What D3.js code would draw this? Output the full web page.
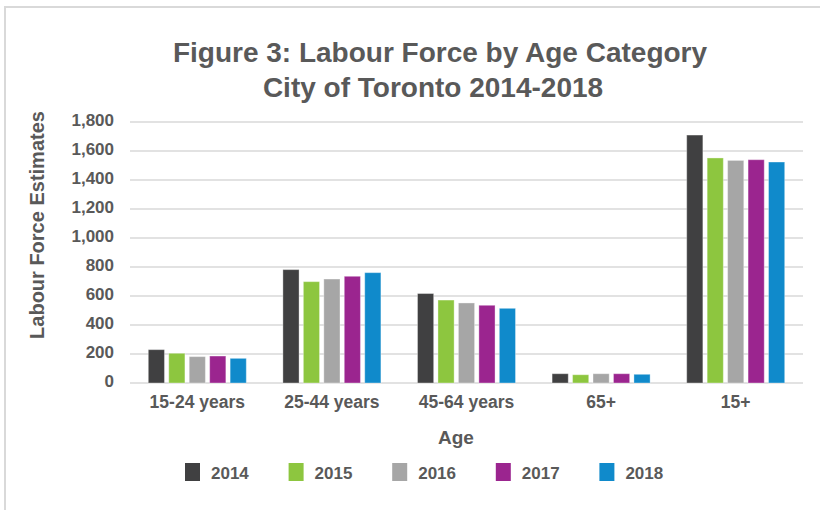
<!DOCTYPE html>
<html>
<head>
<meta charset="utf-8">
<script src="https://d3js.org/d3.v7.min.js"></script>
<style>
  body { margin: 0; background: #fff; }
  text { font-family: "Liberation Sans", Arial, Helvetica, sans-serif; font-weight: bold; fill: #595959; }
</style>
</head>
<body>
<div id="chart"></div>
<script>
// categories and series
var ages = ["15-24 years", "25-44 years", "45-64 years", "65+", "15+"];
var years = ["2014", "2015", "2016", "2017", "2018"];
var colors = ["#404041", "#8dc63f", "#a6a6a6", "#9b258f", "#108acb"];

// values per year, in age order
var v2014 = [230, 782, 617, 64, 1710];
var v2015 = [205, 699, 572, 57, 1552];
var v2016 = [182, 717, 552, 64, 1535];
var v2017 = [186, 736, 536, 64, 1540];
var v2018 = [170, 761, 515, 60, 1524];
var values = [v2014, v2015, v2016, v2017, v2018];

var yTicks = [0, 200, 400, 600, 800, 1000, 1200, 1400, 1600, 1800];

var W = 820, H = 510;
var margin = {top: 122, right: 17, bottom: 127, left: 130};
var width = W - margin.left - margin.right,
    height = H - margin.top - margin.bottom;

var svg = d3.select("#chart").append("svg")
    .attr("width", W)
    .attr("height", H);

// outer frame
svg.append("rect")
    .attr("x", 5).attr("y", 7)
    .attr("width", W + 10).attr("height", H + 10)
    .attr("fill", "none")
    .attr("stroke", "#d9d9d9")
    .attr("stroke-width", 2);

// title
var title = svg.append("text")
    .attr("text-anchor", "middle")
    .attr("font-size", 28);
title.append("tspan").attr("x", 440).attr("y", 62).text("Figure 3: Labour Force by Age Category");
title.append("tspan").attr("x", 433).attr("y", 97).text("City of Toronto 2014-2018");

var g = svg.append("g")
    .attr("transform", "translate(" + margin.left + "," + margin.top + ")");

var x = d3.scaleBand().domain(ages).range([0, width]);
var x1 = d3.scaleBand().domain(years).range([0, 98]).paddingInner(0.21);
var y = d3.scaleLinear().domain([0, 1800]).range([height, 0]);

// gridlines
g.selectAll(".grid").data(yTicks).enter().append("line")
    .attr("x1", 0).attr("x2", width)
    .attr("y1", function(d) { return y(d); })
    .attr("y2", function(d) { return y(d); })
    .attr("stroke", "#d9d9d9")
    .attr("stroke-width", 1.5);

// y axis labels
var yAxis = g.append("g")
    .call(d3.axisLeft(y).tickValues(yTicks).tickSize(0).tickPadding(16).tickFormat(d3.format(",")));
yAxis.select(".domain").remove();
yAxis.selectAll("text").attr("font-size", 17).attr("fill", "#595959").attr("font-family", null)
    .attr("dy", "0.2em");

// x axis labels
var xAxis = g.append("g")
    .attr("transform", "translate(0," + height + ")")
    .call(d3.axisBottom(x).tickSize(0).tickPadding(13));
xAxis.select(".domain").remove();
xAxis.selectAll("text").attr("font-size", 17.5).attr("fill", "#595959").attr("font-family", null);

// bars
var groups = g.selectAll(".grp").data(years).enter().append("g");
groups.each(function(yr, i) {
    d3.select(this).selectAll("rect").data(values[i]).enter().append("rect")
        .attr("x", function(d, j) { return x(ages[j]) + (x.bandwidth() - 98) / 2 + x1(yr); })
        .attr("y", function(d) { return y(d); })
        .attr("width", x1.bandwidth())
        .attr("height", function(d) { return height - y(d); })
        .attr("fill", colors[i])
        .attr("stroke", "#ffffff")
        .attr("stroke-opacity", 0.35)
        .attr("stroke-width", 1);
});

// axis titles
svg.append("text")
    .attr("text-anchor", "middle")
    .attr("font-size", 20)
    .attr("transform", "translate(44," + 225 + ") rotate(-90)")
    .text("Labour Force Estimates");

svg.append("text")
    .attr("text-anchor", "middle")
    .attr("font-size", 19)
    .attr("x", 456).attr("y", 444)
    .text("Age");

// legend
var legend = svg.append("g").attr("transform", "translate(185,463)");
var lx = d3.scaleBand().domain(years).range([0, 518]);
var items = legend.selectAll("g").data(years).enter().append("g")
    .attr("transform", function(d) { return "translate(" + lx(d) + ",0)"; });
items.append("rect")
    .attr("width", 15).attr("height", 18)
    .attr("fill", function(d, i) { return colors[i]; });
items.append("text")
    .attr("x", 26).attr("y", 15.5)
    .attr("font-size", 17)
    .text(function(d) { return d; });
</script>
</body>
</html>
